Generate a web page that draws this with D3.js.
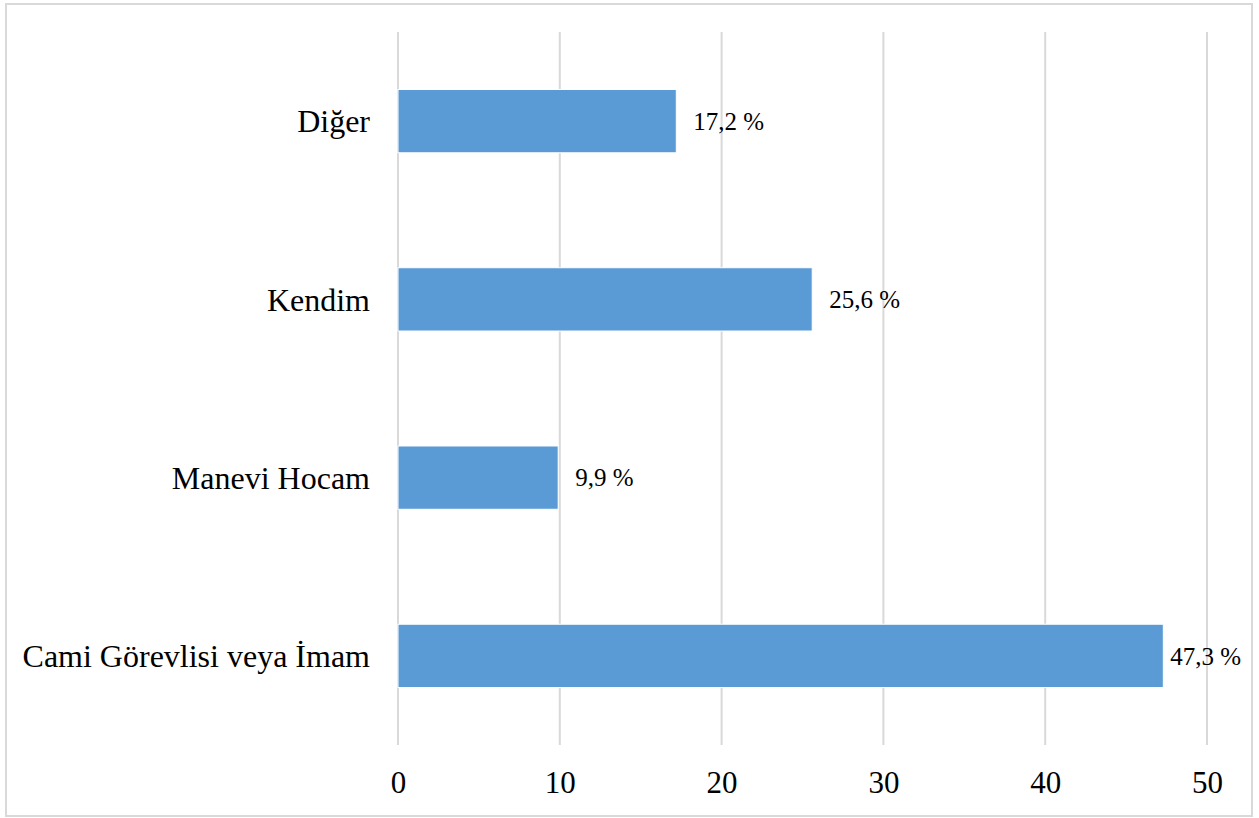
<!DOCTYPE html>
<html><head><meta charset="utf-8">
<script src="https://cdn.jsdelivr.net/npm/d3@7"></script>
<style>body{margin:0;background:#fff}svg{display:block}</style>
</head><body>
<svg id="c" width="1259" height="818"></svg>
<script>
const categories = ["Diğer", "Kendim", "Manevi Hocam", "Cami Görevlisi veya İmam"];
const values = [17.2, 25.6, 9.9, 47.3];
const labels = ["17,2 %", "25,6 %", "9,9 %", "47,3 %"];
const ticks = [0, 10, 20, 30, 40, 50];

const svg = d3.select("#c");
const font = "'Liberation Serif','Times New Roman',serif";
svg.append("rect").attr("x", 6).attr("y", 4).attr("width", 1246).attr("height", 812)
  .attr("fill", "#fff").attr("stroke", "#d9d9d9").attr("stroke-width", 2);

const x = d3.scaleLinear().domain([0, 50]).range([398, 1207]);
const y = d3.scaleBand().domain(categories).range([32, 745]).paddingInner(0.645).paddingOuter(0.3225);

svg.append("g").selectAll("line").data(ticks).join("line")
  .attr("x1", d => x(d)).attr("x2", d => x(d)).attr("y1", 32).attr("y2", 745)
  .attr("stroke", "#d9d9d9").attr("stroke-width", 2);

const xAxis = svg.append("g").attr("transform", "translate(0,745)")
  .call(d3.axisBottom(x).tickValues(ticks).tickSize(0).tickPadding(0));
xAxis.select(".domain").remove();
xAxis.selectAll("text").attr("font-family", font).attr("font-size", 31).attr("fill", "#000")
  .attr("dy", null).attr("y", 48);

svg.append("g").selectAll("rect").data(values).join("rect")
  .attr("x", x(0)).attr("y", (d, i) => y(categories[i]))
  .attr("width", d => x(d) - x(0)).attr("height", y.bandwidth())
  .attr("fill", "#5b9bd5").attr("stroke", "#fff").attr("stroke-width", 1);

const yAxis = svg.append("g").attr("transform", "translate(370,0)")
  .call(d3.axisLeft(y).tickSize(0).tickPadding(0));
yAxis.select(".domain").remove();
yAxis.selectAll("text").attr("font-family", font).attr("font-size", 32).attr("fill", "#000")
  .attr("dy", "0.35em").attr("x", 0);

svg.append("g").selectAll("text").data(values).join("text")
  .attr("font-family", font).attr("font-size", 25).attr("fill", "#000")
  .attr("y", (d, i) => y(categories[i]) + y.bandwidth() / 2).attr("dy", "0.35em")
  .text((d, i) => labels[i])
  .each(function(d) {
    const w = this.getComputedTextLength();
    let px = x(d) + 17;
    if (px + w > 1241) px = Math.max(x(d) + 5, 1241 - w);
    d3.select(this).attr("x", px);
  });
</script>
</body></html>
